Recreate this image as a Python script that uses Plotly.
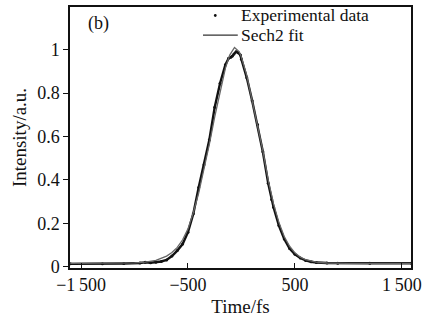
import plotly.graph_objects as go

exp_t = [-1600, -1300, -1100, -950, -900, -850, -800, -750, -700, -650, -600, -550, -500,
         -450, -400, -350, -300, -250, -200, -150, -120, -100, -85, -70, -50, -30, -10, 0,
         50, 100, 150, 200, 250, 282, 300, 350, 400, 450, 500, 550, 600, 650, 700, 800,
         900, 1200, 1590]
exp_i = [0.014, 0.014, 0.016, 0.018, 0.021, 0.019, 0.021, 0.025, 0.032, 0.05, 0.075, 0.105, 0.16,
         0.245, 0.365, 0.47, 0.585, 0.735, 0.845, 0.93, 0.96, 0.965, 0.97, 0.98, 0.99, 0.985, 0.975, 0.955,
         0.87, 0.765, 0.655, 0.53, 0.385, 0.31, 0.275, 0.19, 0.128, 0.085, 0.058, 0.041, 0.03, 0.024, 0.02, 0.018,
         0.017, 0.017, 0.017]

# Sech2 fit
fit_t = [-1600, -1200, -1000, -900, -800, -700, -650, -600, -550, -500, -450, -400, -350, -300,
         -250, -200, -150, -110, -65, -20, 0, 50, 100, 150, 200, 250, 300, 350, 400, 450, 500,
         550, 600, 700, 800, 1000, 1590]
fit_i = [0.016, 0.017, 0.019, 0.022, 0.030, 0.050, 0.066, 0.090, 0.125, 0.175, 0.25, 0.34, 0.45, 0.565,
         0.69, 0.805, 0.915, 0.975, 1.01, 0.99, 0.965, 0.88, 0.77, 0.655, 0.535, 0.40, 0.29, 0.205, 0.14, 0.095, 0.065,
         0.045, 0.033, 0.022, 0.018, 0.016, 0.016]

x_ticks = [-1500, -500, 500, 1500]
x_ticktext = ["\u22121\u2009500", "\u2212500", "500", "1\u2009500"]
y_ticks = [0, 0.2, 0.4, 0.6, 0.8, 1]
y_ticktext = ["0", "0.2", "0.4", "0.6", "0.8", "1"]
legend_labels = ["Experimental data", "Sech2 fit"]

FONT = "Liberation Serif"
INK = "#111111"

fig = go.Figure()
fig.add_trace(go.Scatter(x=exp_t, y=exp_i, mode="lines+markers",
                         line=dict(color=INK, width=2.4),
                         marker=dict(color=INK, size=3),
                         name=legend_labels[0], showlegend=False))
fig.add_trace(go.Scatter(x=fit_t, y=fit_i, mode="lines",
                         line=dict(color="#666666", width=1.3),
                         name=legend_labels[1], showlegend=False))

# manual legend (compact, as in the reference)
shapes = [
    dict(type="circle", xref="paper", yref="paper",
         x0=0.422, x1=0.430, y0=0.962, y1=0.973,
         fillcolor=INK, line=dict(width=0)),
    dict(type="line", xref="paper", yref="paper",
         x0=0.390, x1=0.492, y0=0.892, y1=0.892,
         line=dict(color="#333333", width=1.2)),
]
annotations = [
    dict(text=legend_labels[0], x=0.4985, y=0.970, xref="paper", yref="paper",
         xanchor="left", yanchor="middle", showarrow=False, borderpad=0,
         font=dict(size=17.5, family=FONT, color=INK)),
    dict(text=legend_labels[1], x=0.4985, y=0.892, xref="paper", yref="paper",
         xanchor="left", yanchor="middle", showarrow=False, borderpad=0,
         font=dict(size=17.5, family=FONT, color=INK)),
    dict(text="(b)", x=0.048, y=0.985, xref="paper", yref="paper",
         xanchor="left", yanchor="top", showarrow=False, font=dict(size=18, family=FONT, color=INK)),
]

fig.update_layout(
    width=434, height=322,
    margin=dict(l=70, r=23, t=5, b=54),
    paper_bgcolor="white", plot_bgcolor="white",
    font=dict(family=FONT, color=INK, size=18),
    showlegend=False,
    shapes=shapes,
    annotations=annotations,
)
fig.update_xaxes(range=[-1603, 1585], tickvals=x_ticks, ticktext=x_ticktext,
                 ticks="inside", ticklen=5, tickwidth=1, tickcolor=INK,
                 showline=True, linecolor=INK, linewidth=1.5, mirror=True,
                 showgrid=False, zeroline=False,
                 title=dict(text="Time/fs", font=dict(size=19, family=FONT), standoff=5))
fig.update_yaxes(range=[-0.005, 1.196], tickvals=y_ticks, ticktext=y_ticktext,
                 ticks="outside", ticklen=5, tickwidth=1, tickcolor=INK,
                 showline=True, linecolor=INK, linewidth=1.5, mirror=True,
                 showgrid=False, zeroline=False,
                 title=dict(text="Intensity/a.u.", font=dict(size=19, family=FONT), standoff=6))

fig.write_html("out.html")
